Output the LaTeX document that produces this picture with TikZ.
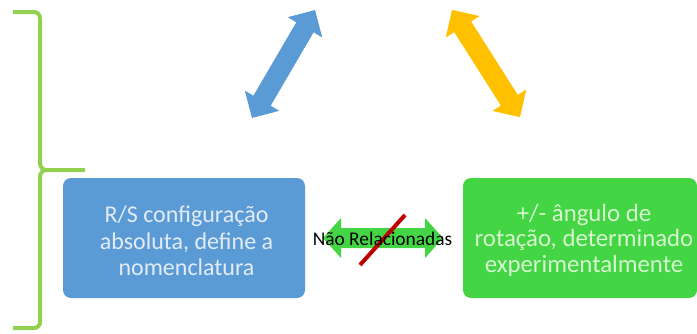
\documentclass[tikz,border=0pt]{standalone}
\usepackage{fontspec}
\setmainfont{Carlito}
\definecolor{boxblue}{HTML}{5B9BD5}
\definecolor{boxgreen}{HTML}{44D544}
\definecolor{arrgreen}{HTML}{44D544}
\definecolor{bracegreen}{HTML}{92D050}
\definecolor{arryellow}{HTML}{FFC000}
\definecolor{slashred}{HTML}{C00000}
\definecolor{bluetext}{HTML}{E2EBF6}
\definecolor{greentext}{HTML}{D6F6D0}
\newcommand\mydblarrow[7]{%
  \begin{scope}[shift={#1}, rotate=#2]
    \fill[#7] ({-(#3)/2},0) -- ({-(#3)/2+#6},{#4/2}) -- ({-(#3)/2+#6},{#5/2})
      -- ({(#3)/2-#6},{#5/2}) -- ({(#3)/2-#6},{#4/2}) -- ({(#3)/2},0)
      -- ({(#3)/2-#6},{-#4/2}) -- ({(#3)/2-#6},{-#5/2})
      -- ({-(#3)/2+#6},{-#5/2}) -- ({-(#3)/2+#6},{-#4/2}) -- cycle;
  \end{scope}}
\tikzset{
  box/.style={rounded corners=8pt, minimum height=120pt, inner sep=0pt},
  boxtext/.style={align=center, inner sep=0pt},
  brace/.style={draw=bracegreen, line width=4pt}
}
\begin{document}
\begin{tikzpicture}[x=1pt,y=-1pt]
\useasboundingbox (0,0) rectangle (697,333);
% brace
\draw[brace] (13,12) -- (34,12) to[out=0,in=90] (40,18) -- (40,163)
  to[out=-90,in=180] (46,170) -- (85,170);
\draw[brace] (46,170) to[out=180,in=90] (40,177) -- (40,322)
  to[out=-90,in=0] (34,328) -- (13,328);
% boxes
\node[box, fill=boxblue, minimum width=242pt] (rs) at (184,238) {};
\node[box, fill=boxgreen, minimum width=234pt] (pm) at (580,238) {};
\node[boxtext, text=bluetext, font=\fontsize{24}{26.5}\selectfont] (rst) at (186.5,241)
  {R/S configuração\\absoluta, define a\\nomenclatura};
\node[boxtext, text=greentext, font=\fontsize{24.8}{25.5}\selectfont] (pmt) at (584,240)
  {+/- ângulo de\\rotação, determinado\\experimentalmente};
% top arrows
\mydblarrow{(283.5,64)}{59.7}{125}{40}{20}{20}{boxblue}
\mydblarrow{(486,63.5)}{122.4}{127}{40}{20}{20}{arryellow}
% middle arrow
\coordinate (ma) at (383,238);
\mydblarrow{(ma)}{0}{120}{40}{20}{18}{arrgreen}
\coordinate (s1) at (405,215);
\coordinate (s2) at (360,265);
\draw[slashred, line width=4pt] (s1) -- (s2);
\node[font=\fontsize{19.4}{21}\selectfont, inner sep=0pt] (nr) at (382.5,239) {Não Relacionadas};
\end{tikzpicture}
\end{document}
